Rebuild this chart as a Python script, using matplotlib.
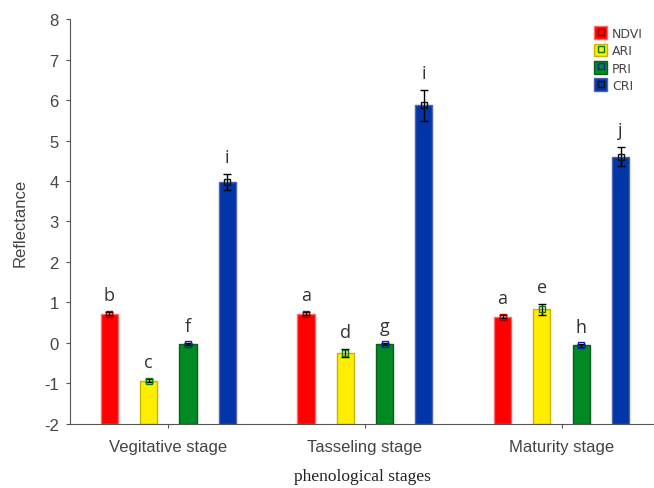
import numpy as np
import matplotlib.pyplot as plt
from matplotlib.patches import Patch
from matplotlib.lines import Line2D

plt.rcParams['axes.unicode_minus'] = False

stages = ['Vegitative stage', 'Tasseling stage', 'Maturity stage']
indices = ['NDVI', 'ARI', 'PRI', 'CRI']

ndvi = [0.72, 0.72, 0.65]
ari = [-0.93, -0.25, 0.83]
pri = [-0.03, -0.03, -0.06]
cri = [3.97, 5.87, 4.60]

ndvi_err = [0.04, 0.04, 0.04]
ari_err = [0.04, 0.10, 0.13]
pri_err = [0.03, 0.03, 0.03]
cri_err = [0.20, 0.38, 0.23]

letters_ndvi = ['b', 'a', 'a']
letters_ari = ['c', 'd', 'e']
letters_pri = ['f', 'g', 'h']
letters_cri = ['i', 'i', 'j']

face = ['#ff0000', '#ffee00', '#008a22', '#0035a8']
edge = ['#ff6a6a', '#c8b400', '#0b5e1a', '#5560b0']
mark = ['#9a0000', '#0a7a10', '#1020a0', '#111111']

values = [ndvi, ari, pri, cri]
errors = [ndvi_err, ari_err, pri_err, cri_err]
letters = [letters_ndvi, letters_ari, letters_pri, letters_cri]

base = -2
fig = plt.figure(figsize=(6.54, 4.89), dpi=100)
ax = fig.add_axes([0.107, 0.131, 0.893, 0.828])

x = np.arange(len(stages))
offs = [-0.3, -0.1, 0.1, 0.3]
w = 0.087
for i in range(4):
    v = np.array(values[i])
    xx = x + offs[i]
    ax.bar(xx, v - base, bottom=base, width=w, color=face[i], edgecolor=edge[i], linewidth=1, zorder=2)
    ax.errorbar(xx, v, yerr=errors[i], fmt='none', ecolor='black', elinewidth=1, capsize=3, capthick=1, zorder=3)
    ax.plot(xx, v, 's', ms=5, mfc='none', mec=mark[i], mew=1, zorder=4)
    for j in range(3):
        ax.annotate(letters[i][j], (xx[j], v[j] + errors[i][j]), xytext=(0, 6), textcoords='offset points',
                    ha='center', va='bottom', fontsize=13, color='#333333', family='Open Sans')

ax.set_xlim(-0.5, 2.47)
ax.set_ylim(-2, 8)
ax.set_yticks(range(-2, 9))
ax.set_xticks(x)
ax.set_xticklabels(stages)
for s in ['top', 'right']:
    ax.spines[s].set_visible(False)
for s in ['left', 'bottom']:
    ax.spines[s].set_color('#555555')
ax.tick_params(axis='both', colors='#555555', labelcolor='#444444', labelsize=12, length=3)
for lab in ax.get_xticklabels() + ax.get_yticklabels():
    lab.set_family('Liberation Sans')
ax.tick_params(axis='x', pad=8)
ax.tick_params(axis='y', pad=5)
ax.set_ylabel('Reflectance', fontsize=12, color='#444444', family='Liberation Sans', labelpad=12)
ax.set_xlabel('phenological stages', fontsize=12.5, color='#222222', family='Liberation Serif', labelpad=10)

handles = []
for i in range(4):
    handles.append((Patch(facecolor=face[i], edgecolor=edge[i]),
                    Line2D([], [], marker='s', ms=4, mfc='none', mec=mark[i], ls='none')))
leg = ax.legend(handles, indices, loc='upper right', bbox_to_anchor=(1.0, 1.01), frameon=False,
                fontsize=9, handlelength=1.0, handleheight=1.2, handletextpad=0.4, labelspacing=0.3)
for t in leg.get_texts():
    t.set_color('#444444')

fig.savefig('out.png', dpi=100)
